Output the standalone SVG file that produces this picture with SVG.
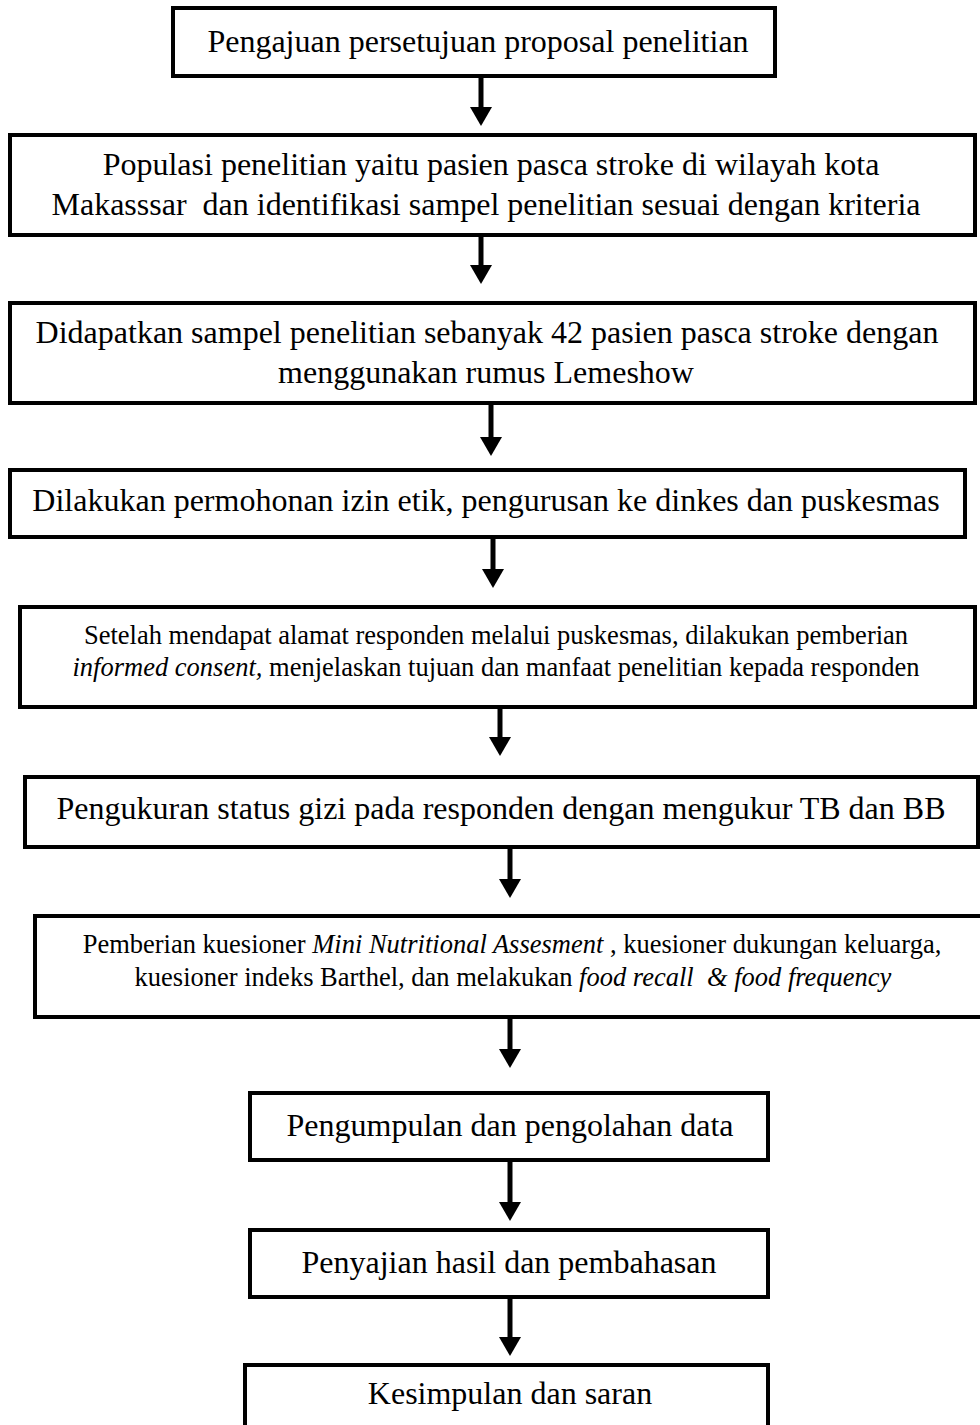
<svg xmlns="http://www.w3.org/2000/svg" width="980" height="1425" viewBox="0 0 980 1425">
<style>
.box{fill:#fff;stroke:#000;stroke-width:4}
.t{font-family:"Liberation Serif","Times New Roman",serif;fill:#000;text-anchor:middle;white-space:pre}
.l{font-size:32px}
.s{font-size:26.5px}
.i{font-style:italic}
.c{stroke:#000;stroke-width:5;fill:none}
</style>
<defs>
<marker id="ah" markerUnits="userSpaceOnUse" markerWidth="20" markerHeight="22" refX="0" refY="11" orient="auto">
<path d="M0,0 L19,11 L0,22 z" fill="#000"/>
</marker>
</defs>
<rect width="980" height="1425" fill="#fff"/>
<g id="connectors">
<line class="c" x1="481" y1="76" x2="481" y2="107" marker-end="url(#ah)"/>
<line class="c" x1="481" y1="235" x2="481" y2="265" marker-end="url(#ah)"/>
<line class="c" x1="491" y1="403" x2="491" y2="437" marker-end="url(#ah)"/>
<line class="c" x1="493" y1="537" x2="493" y2="569" marker-end="url(#ah)"/>
<line class="c" x1="500" y1="707" x2="500" y2="737" marker-end="url(#ah)"/>
<line class="c" x1="510" y1="847" x2="510" y2="879" marker-end="url(#ah)"/>
<line class="c" x1="510" y1="1017" x2="510" y2="1049" marker-end="url(#ah)"/>
<line class="c" x1="510" y1="1160" x2="510" y2="1202" marker-end="url(#ah)"/>
<line class="c" x1="510" y1="1297" x2="510" y2="1337" marker-end="url(#ah)"/>
</g>
<g id="n1">
<rect class="box" x="173" y="8" width="602" height="68"/>
<text class="t l" x="478" y="52">Pengajuan persetujuan proposal penelitian</text>
</g>
<g id="n2">
<rect class="box" x="10" y="135" width="965" height="100"/>
<text class="t l" x="491" y="175">Populasi penelitian yaitu pasien pasca stroke di wilayah kota</text>
<text class="t l" x="486" y="215" xml:space="preserve">Makasssar  dan identifikasi sampel penelitian sesuai dengan kriteria</text>
</g>
<g id="n3">
<rect class="box" x="10" y="303" width="965" height="100"/>
<text class="t l" x="487" y="343">Didapatkan sampel penelitian sebanyak 42 pasien pasca stroke dengan</text>
<text class="t l" x="486" y="383">menggunakan rumus Lemeshow</text>
</g>
<g id="n4">
<rect class="box" x="10" y="470" width="955" height="67"/>
<text class="t l" x="486" y="511">Dilakukan permohonan izin etik, pengurusan ke dinkes dan puskesmas</text>
</g>
<g id="n5">
<rect class="box" x="20" y="607" width="955" height="100"/>
<text class="t s" x="496" y="644">Setelah mendapat alamat responden melalui puskesmas, dilakukan pemberian</text>
<text class="t s" x="496" y="676"><tspan class="i">informed consent,</tspan> menjelaskan tujuan dan manfaat penelitian kepada responden</text>
</g>
<g id="n6">
<rect class="box" x="25" y="777" width="953" height="70"/>
<text class="t l" x="501" y="819">Pengukuran status gizi pada responden dengan mengukur TB dan BB</text>
</g>
<g id="n7">
<rect class="box" x="35" y="916" width="950" height="101"/>
<text class="t s" x="512" y="953">Pemberian kuesioner <tspan class="i">Mini Nutritional Assesment</tspan> , kuesioner dukungan keluarga,</text>
<text class="t s" x="513" y="986" xml:space="preserve">kuesioner indeks Barthel, dan melakukan <tspan class="i">food recall  &amp; food frequency</tspan></text>
</g>
<g id="n8">
<rect class="box" x="250" y="1093" width="518" height="67"/>
<text class="t l" x="510" y="1136">Pengumpulan dan pengolahan data</text>
</g>
<g id="n9">
<rect class="box" x="250" y="1230" width="518" height="67"/>
<text class="t l" x="509" y="1273">Penyajian hasil dan pembahasan</text>
</g>
<g id="n10">
<rect class="box" x="245" y="1365" width="523" height="75"/>
<text class="t l" x="510" y="1404">Kesimpulan dan saran</text>
</g>
</svg>
